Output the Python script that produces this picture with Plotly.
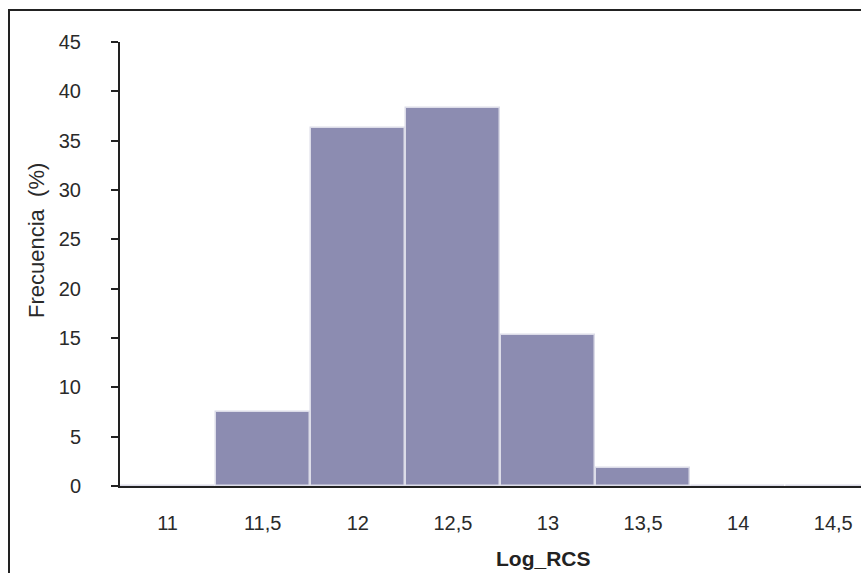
import plotly.graph_objects as go

categories = ["11", "11,5", "12", "12,5", "13", "13,5", "14", "14,5"]
frecuencia = [0, 7.5, 36.3, 38.3, 15.3, 1.8, 0, 0]
y_ticks = [0, 5, 10, 15, 20, 25, 30, 35, 40, 45]

W, H = 861, 573
L, T, B = 120, 42, 87
plot_w = W - L
plot_h = H - T - B

xs = list(range(len(categories)))

fig = go.Figure()
fig.add_trace(go.Bar(
    x=xs, y=frecuencia, width=0.99,
    marker=dict(color="#8c8cb1", line=dict(color="#dcdce8", width=1.5)),
    showlegend=False, hoverinfo="skip",
))

fig.update_layout(
    width=W, height=H,
    margin=dict(l=L, r=0, t=T, b=B, pad=0),
    paper_bgcolor="white", plot_bgcolor="white",
    font=dict(family="Liberation Sans, Arial, sans-serif", color="#2a2a2a", size=20),
    bargap=0,
)
fig.update_xaxes(
    range=[-0.5, -0.5 + plot_w / 95.1],
    tickvals=xs, ticktext=categories,
    showline=True, linecolor="#222222", linewidth=2,
    showgrid=False, zeroline=False, ticks="",
    ticklabelstandoff=18,
    tickfont=dict(size=20, color="#2a2a2a"),
)
fig.update_yaxes(
    range=[0, 45], tickvals=y_ticks,
    showline=True, linecolor="#222222", linewidth=2,
    showgrid=False, zeroline=False,
    ticks="outside", ticklen=7, tickwidth=2, tickcolor="#222222",
    ticklabelstandoff=26,
    tickfont=dict(size=20, color="#2a2a2a"),
)

# Axis titles
fig.add_annotation(
    text="Frecuencia  (%)", textangle=-90,
    xref="paper", yref="paper",
    x=(36 - L) / plot_w, y=(H - B - 241) / plot_h,
    xanchor="center", yanchor="middle", showarrow=False,
    font=dict(size=22, color="#2a2a2a"),
)
fig.add_annotation(
    text="<b>Log_RCS</b>",
    xref="paper", yref="paper",
    x=(543 - L) / plot_w, y=-(558 - (H - B)) / plot_h,
    xanchor="center", yanchor="middle", showarrow=False,
    font=dict(size=21, color="#222222"),
)

# Outer frame (cropped on right and bottom)
fig.add_shape(
    type="rect", xref="paper", yref="paper",
    x0=(9 - L) / plot_w, x1=1.1,
    y0=-0.5, y1=1 + (T - 10) / plot_h,
    line=dict(color="#222222", width=2), fillcolor="rgba(0,0,0,0)",
    layer="below",
)

fig.write_html(
    "out.html",
    config={"displayModeBar": False},
    post_script="document.body.style.margin='0';document.body.style.overflow='hidden';",
)
